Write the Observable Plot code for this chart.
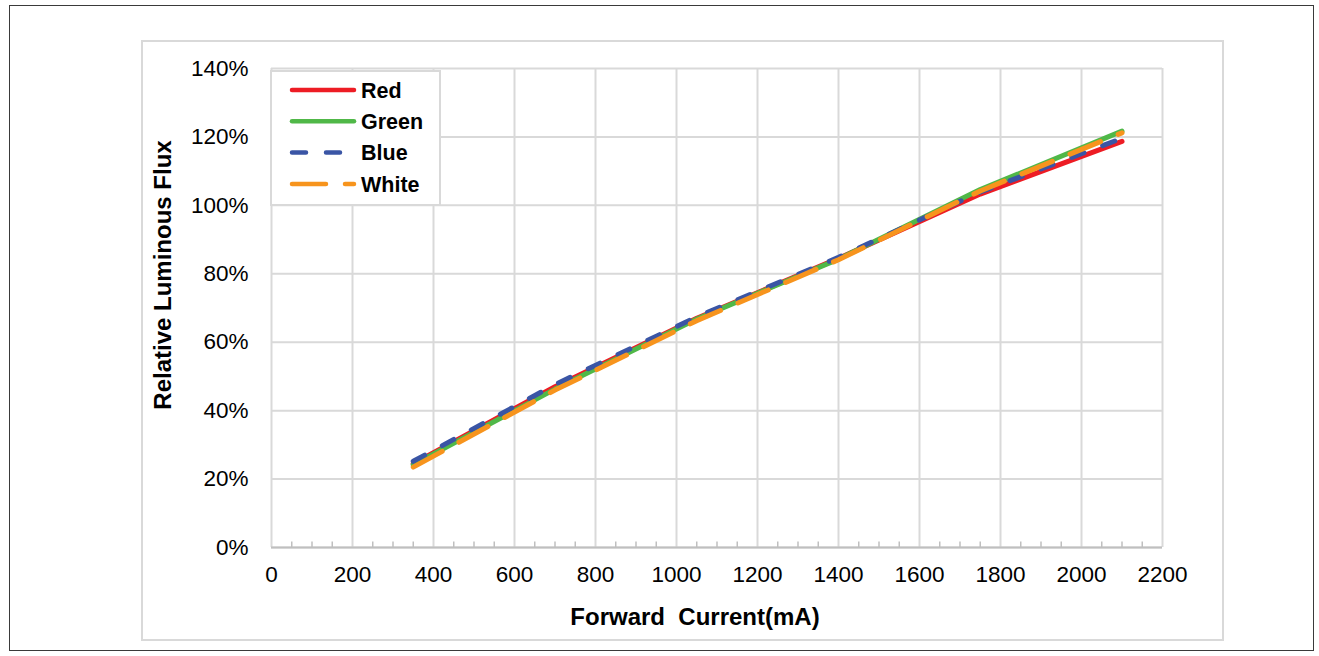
<!DOCTYPE html>
<html>
<head>
<meta charset="utf-8">
<script src="https://cdn.jsdelivr.net/npm/d3@7"></script>
<script src="https://cdn.jsdelivr.net/npm/@observablehq/plot@0.6"></script>
<style>
  html, body { margin: 0; padding: 0; background: #fff; }
  #wrap { position: relative; width: 1319px; height: 656px; overflow: hidden; font-family: Arial, "Liberation Sans", sans-serif; }
  #outer { position: absolute; left: 9px; top: 5px; width: 1303px; height: 644px; border: 1.5px solid #3a3a3a; }
  #inner { position: absolute; left: 141px; top: 40px; width: 1079px; height: 597px; border: 2px solid #d9d9d9; }
  #chart { position: absolute; left: 0; top: 0; }
  #legend { position: absolute; left: 270px; top: 70px; }
  .title { position: absolute; font-weight: bold; font-size: 24px; color: #000; white-space: pre; text-align: center; }
</style>
</head>
<body>
<div id="wrap">
  <div id="outer"></div>
  <div id="inner"></div>
  <div id="chart"></div>
  <div id="legend"></div>
  <div class="title" id="xlabel" style="left:495px; width:400px; top:603px; line-height:28px;"></div>
  <div class="title" id="ylabel" style="left:-37px; width:400px; top:261px; line-height:28px; transform: rotate(-90deg); transform-origin: 200px 14px;"></div>
</div>
<script>
// ---- data ----
const currents = [350, 700, 1050, 1400, 1750, 2100];
const red   = [24.5, 47.0, 67.0, 84.5, 103.3, 118.7];
const green = [24.2, 46.3, 66.8, 84.3, 104.6, 121.7];
const blue  = [25.2, 47.6, 67.4, 84.8, 103.9, 119.6];
const white = [23.5, 46.0, 66.3, 84.1, 104.2, 121.2];
const seriesNames = ["Red", "Green", "Blue", "White"];
const xTicks = [0, 200, 400, 600, 800, 1000, 1200, 1400, 1600, 1800, 2000, 2200];
const yTicks = [0, 20, 40, 60, 80, 100, 120, 140];
const xTitle = "Forward  Current(mA)";
const yTitle = "Relative Luminous Flux";

// ---- styles ----
const colors = ["#ed1c24", "#50b848", "#3a55a5", "#f7941d"];
const dashes = [null, null, "13,20", "33,19"];
const legendDashes = [null, null, "14,20", "34,19"];

const seriesValues = [red, green, blue, white];
const minorTicks = d3.range(0, 2201, 50).filter(v => v % 200 !== 0);

const lineMarks = seriesValues.map((vals, s) =>
  Plot.line(currents.map((c, i) => ({current: c, flux: vals[i]})), {
    x: "current", y: "flux",
    stroke: colors[s], strokeWidth: 5,
    strokeDasharray: dashes[s] || undefined,
    strokeLinecap: "round", strokeLinejoin: "round"
  })
);

const chart = Plot.plot({
  width: 1319, height: 656,
  marginLeft: 271, marginRight: 157, marginTop: 68, marginBottom: 109,
  style: {fontFamily: 'Arial, "Liberation Sans", sans-serif', background: "transparent", overflow: "visible"},
  x: {domain: [0, 2200]},
  y: {domain: [0, 140]},
  marks: [
    Plot.gridX(xTicks, {stroke: "#d9d9d9", strokeOpacity: 1, strokeWidth: 2}),
    Plot.gridY(yTicks, {stroke: "#d9d9d9", strokeOpacity: 1, strokeWidth: 2}),
    Plot.ruleY([0], {stroke: "#bfbfbf", strokeWidth: 2}),
    Plot.ruleX(minorTicks, {y1: 0, y2: 1.6, stroke: "#bfbfbf", strokeWidth: 1.5}),
    Plot.axisX(xTicks, {tickSize: 0, tickPadding: 19, fontSize: 22.5, label: null, tickFormat: d => String(d), fill: "#000"}),
    Plot.axisY(yTicks, {tickSize: 0, tickPadding: 23, fontSize: 22.5, label: null, tickFormat: d => d + "%", fill: "#000"}),
    ...lineMarks
  ]
});
document.getElementById("chart").appendChild(chart);

// ---- legend ----
const lw = 171, lh = 136;
const leg = d3.select("#legend").append("svg").attr("width", lw).attr("height", lh);
leg.append("rect").attr("x", 1).attr("y", 1).attr("width", lw - 2).attr("height", lh - 2)
  .attr("fill", "#fff").attr("stroke", "#d9d9d9").attr("stroke-width", 2);
seriesNames.forEach((name, s) => {
  const y = 20 + s * 31.3;
  leg.append("line").attr("x1", 22).attr("x2", 84).attr("y1", y).attr("y2", y)
    .attr("stroke", colors[s]).attr("stroke-width", 4.5).attr("stroke-linecap", "round")
    .attr("stroke-dasharray", legendDashes[s]);
  leg.append("text").attr("x", 91).attr("y", y).attr("dy", "0.36em")
    .attr("font-family", 'Arial, "Liberation Sans", sans-serif')
    .attr("font-weight", "bold").attr("font-size", 21.5).text(name);
});

document.getElementById("xlabel").textContent = xTitle;
document.getElementById("ylabel").textContent = yTitle;
</script>
</body>
</html>
